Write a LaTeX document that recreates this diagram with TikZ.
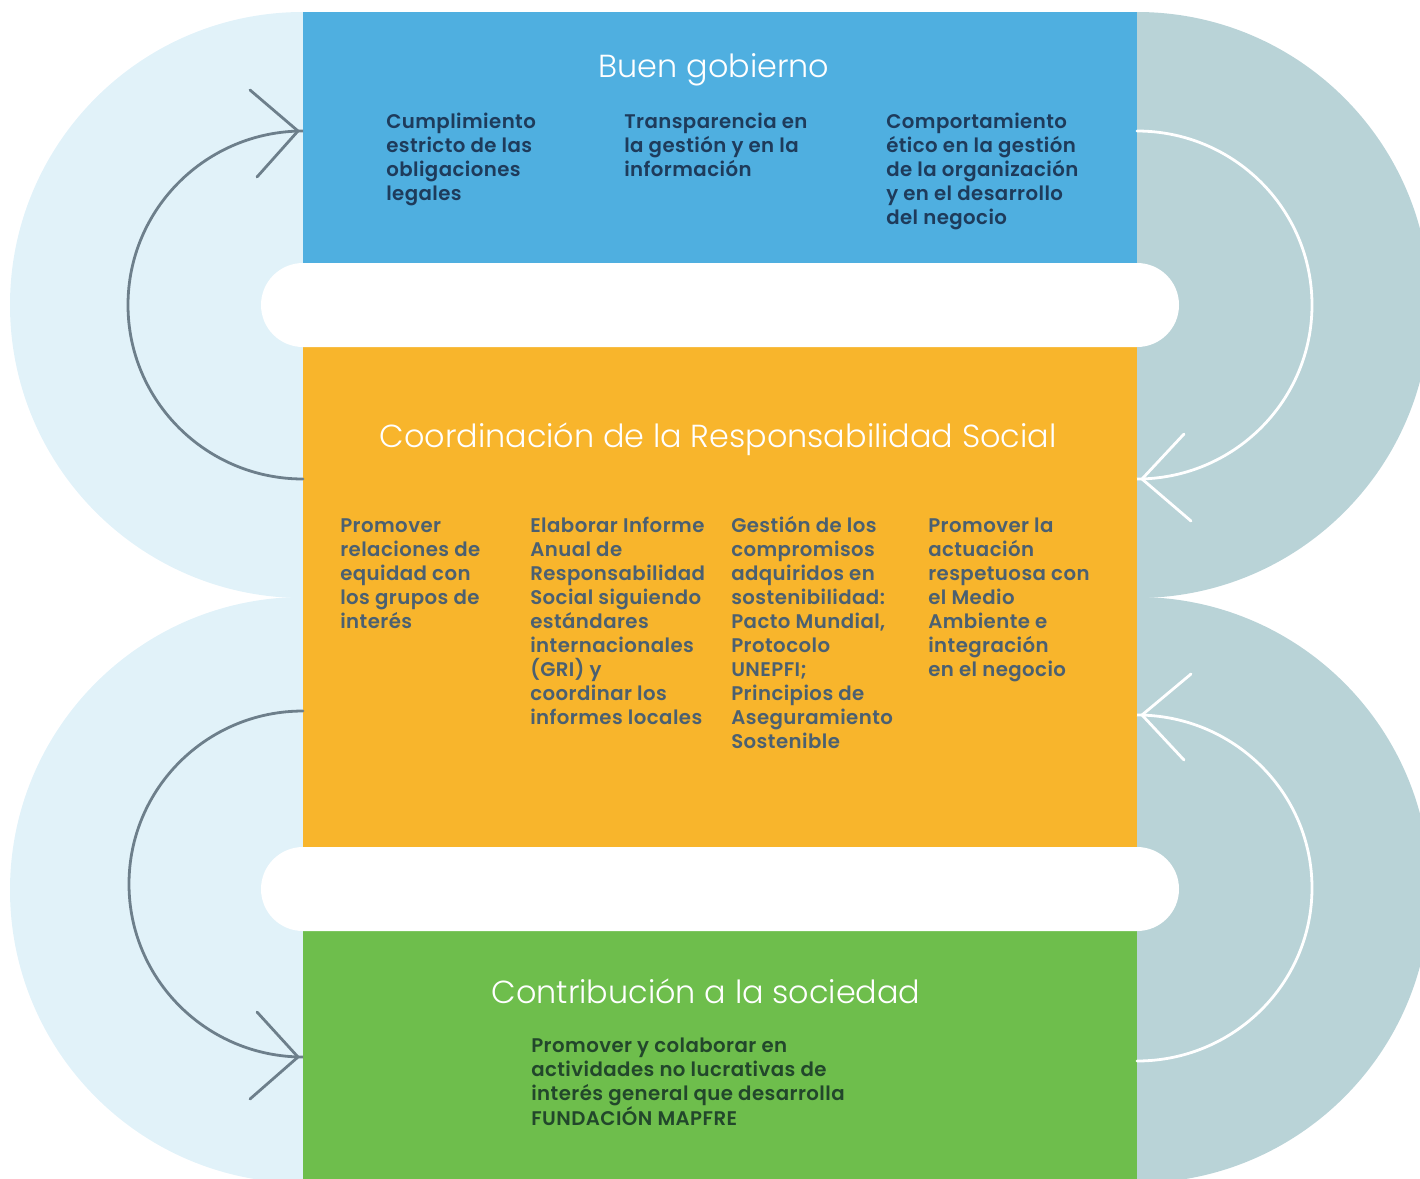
\documentclass[tikz,border=0pt]{standalone}
\usepackage{fontspec}
\setmainfont{Poppins}[UprightFont=* SemiBold, LetterSpace=2.2]
\newfontfamily\titlefont{Poppins}[UprightFont=* Light]
\definecolor{boxblue}{HTML}{4FAFE0}
\definecolor{boxorange}{HTML}{F8B52C}
\definecolor{boxgreen}{HTML}{6EBE4C}
\definecolor{ringleft}{HTML}{E1F2F9}
\definecolor{ringright}{HTML}{B9D3D7}
\definecolor{arrowgray}{HTML}{6D7F8B}
\definecolor{txtnavy}{HTML}{1E3B5B}
\definecolor{txtslate}{HTML}{4B6071}
\definecolor{txtgreen}{HTML}{22472B}
\tikzset{
  x=0.75pt, y=-0.75pt,
  band/.style={draw=none, inner sep=0pt, outer sep=0pt, anchor=north west},
  pill/.style={fill=white, draw=none, rounded corners=31.5pt},
  title/.style={inner sep=0pt, anchor=base, text=white, font=\titlefont\fontsize{23.9}{28}\selectfont},
  item/.style={inner sep=0pt, anchor=base west},
  loop/.style={line width=2.1pt, line cap=round, line join=miter},
}
\newcommand{\col}[2]{\parbox[t]{#1}{\raggedright\fontsize{14.8}{18}\selectfont #2}}
\begin{document}
\begin{tikzpicture}
\useasboundingbox (0,0) rectangle (1420,1178);
\clip (0,0) rectangle (1420,1178);
% background rings
\fill[ringleft] (303,305) circle[radius=293];
\fill[ringleft] (303,890) circle[radius=293];
\fill[ringright] (1137,305) circle[radius=293];
\fill[ringright] (1137,890) circle[radius=293];
% boxes
\node[band, fill=boxblue, minimum width=834*0.75pt, minimum height=251*0.75pt] (gob) at (303,12) {};
\node[band, fill=boxorange, minimum width=834*0.75pt, minimum height=500*0.75pt] (coord) at (303,347) {};
\node[band, fill=boxgreen, minimum width=834*0.75pt, minimum height=260*0.75pt] (soc) at (303,931) {};
% white pills
\fill[pill] (261,263) rectangle (1179,347);
\fill[pill] (261,847) rectangle (1179,931);
% named coordinates for the loops
\coordinate (a1s) at (303,479);
\coordinate (a1t) at (298,131);
\coordinate (a2s) at (1137,131);
\coordinate (a2t) at (1142,479);
\coordinate (a3s) at (303,711);
\coordinate (a3t) at (298,1057);
\coordinate (a4s) at (1137,1061);
\coordinate (a4t) at (1142,715);
% loops
\draw[loop, arrowgray] (a1s) arc[start angle=90, end angle=270, x radius=175, y radius=174] -- (a1t);
\draw[loop, arrowgray] (250,90) -- (a1t) -- (257,177);
\draw[loop, white] (a2s) arc[start angle=-90, end angle=90, x radius=175, y radius=174] -- (a2t);
\draw[loop, white] (1184,434) -- (a2t) -- (1191,521);
\draw[loop, arrowgray] (a3s) arc[start angle=270, end angle=90, x radius=174, y radius=173] -- (a3t);
\draw[loop, arrowgray] (257,1012) -- (a3t) -- (250,1099);
\draw[loop, white] (a4s) arc[start angle=90, end angle=-90, x radius=175, y radius=173] -- (a4t);
\draw[loop, white] (1191,674) -- (a4t) -- (1184,760);
% titles
\node[title] (t1) at (714,77) {Buen gobierno};
\node[title] (t2) at (718,447) {Coordinación de la Responsabilidad Social};
\node[title] (t3) at (706,1003) {Contribución a la sociedad};
% blue items
\node[item, text=txtnavy] (b1) at (386,128) {\col{190pt}{Cumplimiento\\estricto de las\\obligaciones\\legales}};
\node[item, text=txtnavy] (b2) at (624,128) {\col{190pt}{Transparencia en\\la gestión y en la\\información}};
\node[item, text=txtnavy] (b3) at (886,128) {\col{190pt}{Comportamiento\\ético en la gestión\\de la organización\\y en el desarrollo\\del negocio}};
% orange items
\node[item, text=txtslate] (o1) at (340,532) {\col{170pt}{Promover\\relaciones de\\equidad con\\los grupos de\\interés}};
\node[item, text=txtslate] (o2) at (530,532) {\col{170pt}{Elaborar Informe\\Anual de\\Responsabilidad\\Social siguiendo\\estándares\\internacionales\\(GRI) y\\coordinar los\\informes locales}};
\node[item, text=txtslate] (o3) at (731,532) {\col{170pt}{Gestión de los\\compromisos\\adquiridos en\\sostenibilidad:\\Pacto Mundial,\\Protocolo\\UNEPFI;\\Principios de\\Aseguramiento\\Sostenible}};
\node[item, text=txtslate] (o4) at (928,532) {\col{170pt}{Promover la\\actuación\\respetuosa con\\el Medio\\Ambiente e\\integración\\en el negocio}};
% green item
\node[item, text=txtgreen] (g1) at (531,1052) {\col{340pt}{Promover y colaborar en\\actividades no lucrativas de\\interés general que desarrolla\\FUNDACIÓN MAPFRE}};
\end{tikzpicture}
\end{document}
